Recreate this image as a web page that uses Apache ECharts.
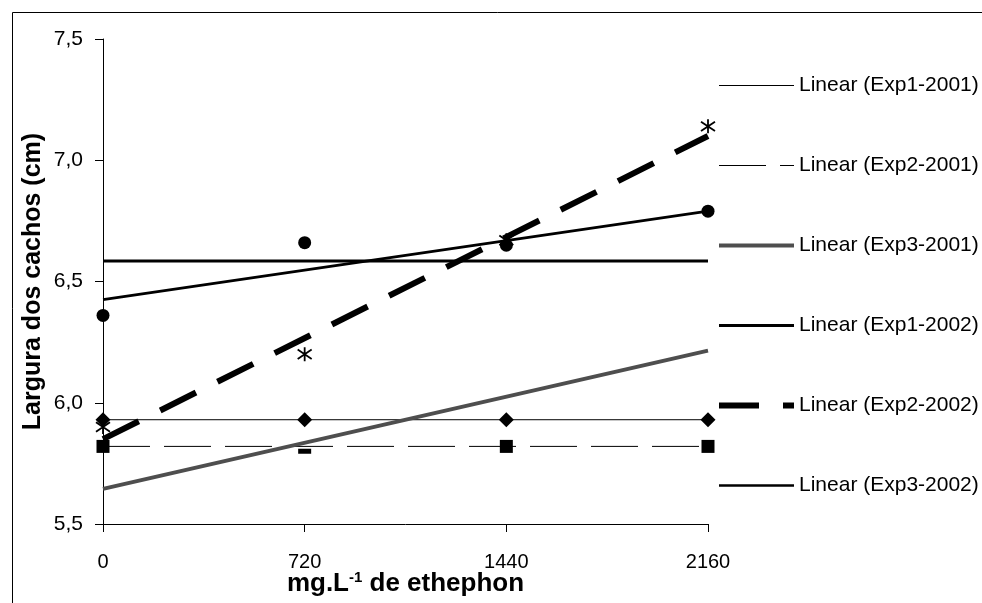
<!DOCTYPE html>
<html>
<head>
<meta charset="utf-8">
<script src="https://cdn.jsdelivr.net/npm/echarts@6/dist/echarts.min.js"></script>
<style>
html,body{margin:0;padding:0;background:#fff;}
#c{width:982px;height:603px;}
</style>
</head>
<body>
<div id="c"></div>
<script>
// ---- data ----
const doses = [0, 720, 1440, 2160];
const yTicks = [5.5, 6.0, 6.5, 7.0, 7.5];

// observed means (markers)
const exp1_2001 = [5.93, 5.93, 5.93, 5.93];   // diamonds
const exp2_2001 = [5.82, null, 5.82, 5.82];   // squares
const exp3_2001 = [null, 5.80, null, null];   // dash marker
const exp2_2002 = [5.90, 6.20, 6.67, 7.14];   // asterisks
const exp3_2002 = [6.36, 6.66, 6.65, 6.79];   // circles

// linear trend lines: value at first and last dose
const trendDose = [0, 2160];
const trendExp1_2001 = [5.93, 5.93];
const trendExp2_2001 = [5.82, 5.82];
const trendExp3_2001 = [5.645, 6.215];
const trendExp1_2002 = [6.585, 6.585];
const trendExp2_2002 = [5.85, 7.10];
const trendExp3_2002 = [6.425, 6.79];

const legendNames = ['Linear (Exp1-2001)', 'Linear (Exp2-2001)', 'Linear (Exp3-2001)',
                     'Linear (Exp1-2002)', 'Linear (Exp2-2002)', 'Linear (Exp3-2002)'];

// ---- build ----
const pts = (xs, ys) => xs.map((x, i) => ys[i] == null ? null : [x, ys[i]]).filter(p => p);
const FONT = '"Liberation Sans", Arial, sans-serif';

const lineStyles = [
  {color: '#000', width: 1, type: 'solid'},
  {color: '#000', width: 1, type: [47, 14]},
  {color: '#4e4e4e', width: 4, type: 'solid'},
  {color: '#000', width: 3, type: 'solid'},
  {color: '#000', width: 6, type: [40, 24], cap: 'butt'},
  {color: '#000', width: 2.7, type: 'solid'}
];
const trends = [trendExp1_2001, trendExp2_2001, trendExp3_2001, trendExp1_2002, trendExp2_2002, trendExp3_2002];

const series = [];
trends.forEach((t, i) => {
  series.push({
    type: 'line', name: legendNames[i], data: pts(trendDose, t),
    symbol: 'none', lineStyle: lineStyles[i], itemStyle: {color: lineStyles[i].color},
    z: 2, silent: true
  });
});

const asteriskPath = 'path://M6,0 L6,12 M1,2 L11,10 M11,2 L1,10';
const solid = {color: '#000', opacity: 1};

series.push({type: 'scatter', name: 'Exp1-2001', data: pts(doses, exp1_2001), symbol: 'diamond', symbolSize: 15, itemStyle: solid, z: 3});
series.push({type: 'scatter', name: 'Exp2-2001', data: pts(doses, exp2_2001), symbol: 'rect', symbolSize: 13, itemStyle: solid, z: 3});
series.push({type: 'scatter', name: 'Exp3-2001', data: pts(doses, exp3_2001), symbol: 'rect', symbolSize: [13, 5], itemStyle: solid, z: 3});
series.push({type: 'scatter', name: 'Exp2-2002', data: pts(doses, exp2_2002), symbol: asteriskPath, symbolSize: 14,
  itemStyle: {color: 'rgba(0,0,0,0)', borderColor: '#000', borderWidth: 1.8, opacity: 1}, z: 3});
series.push({type: 'scatter', name: 'Exp3-2002', data: pts(doses, exp3_2002), symbol: 'circle', symbolSize: 13, itemStyle: solid, z: 3});

const chart = echarts.init(document.getElementById('c'), null, {renderer: 'canvas'});
chart.setOption({
  animation: false,
  backgroundColor: '#fff',
  textStyle: {fontFamily: FONT, color: '#000'},
  graphic: [{
    type: 'rect', left: 10, top: 10, shape: {width: 1000, height: 700},
    style: {fill: 'none', stroke: '#000', lineWidth: 1}, silent: true, z: -1
  }],
  grid: {left: 103, right: 274, top: 39, bottom: 79, containLabel: false, outerBoundsMode: 'none'},
  legend: {
    orient: 'vertical', left: 711, top: 70,
    itemWidth: 75, itemHeight: 14, itemGap: 59,
    selectedMode: false,
    textStyle: {fontFamily: FONT, fontSize: 21, color: '#000'},
    data: legendNames.map((n, i) => ({
      name: n,
      itemStyle: {color: 'rgba(0,0,0,0)', borderWidth: 0, opacity: 0},
      lineStyle: {width: lineStyles[i].width, color: lineStyles[i].color, type: lineStyles[i].type, opacity: 1}
    }))
  },
  xAxis: {
    type: 'value', min: 0, max: 2160, interval: 720,
    axisLine: {show: true, onZero: false, lineStyle: {color: '#000', width: 1}},
    axisTick: {show: true, length: 8, lineStyle: {color: '#000'}},
    splitLine: {show: false},
    axisLabel: {fontSize: 20, color: '#000', fontFamily: FONT, margin: 28, formatter: v => String(v)},
    name: '{a|mg.L}{s|-1}{a| de ethephon}',
    nameLocation: 'middle', nameGap: 46, nameMoveOverlap: false,
    nameTextStyle: {
      rich: {
        a: {fontSize: 26, fontWeight: 'bold', fontFamily: FONT, color: '#000'},
        s: {fontSize: 15, fontWeight: 'bold', fontFamily: FONT, color: '#000', padding: [0, 0, 13, 0]}
      }
    }
  },
  yAxis: {
    type: 'value', min: 5.5, max: 7.5, interval: 0.5,
    axisLine: {show: true, onZero: false, lineStyle: {color: '#000', width: 1}},
    axisTick: {show: true, length: 8, lineStyle: {color: '#000'}},
    splitLine: {show: false},
    axisLabel: {fontSize: 21, color: '#000', fontFamily: FONT, margin: 20,
      formatter: v => v.toFixed(1).replace('.', ',')},
    name: 'Largura dos cachos (cm)', nameLocation: 'middle', nameGap: 57, nameRotate: 90, nameMoveOverlap: false,
    nameTextStyle: {fontSize: 25, fontWeight: 'bold', fontFamily: FONT, color: '#000'}
  },
  series: series
});
</script>
</body>
</html>
